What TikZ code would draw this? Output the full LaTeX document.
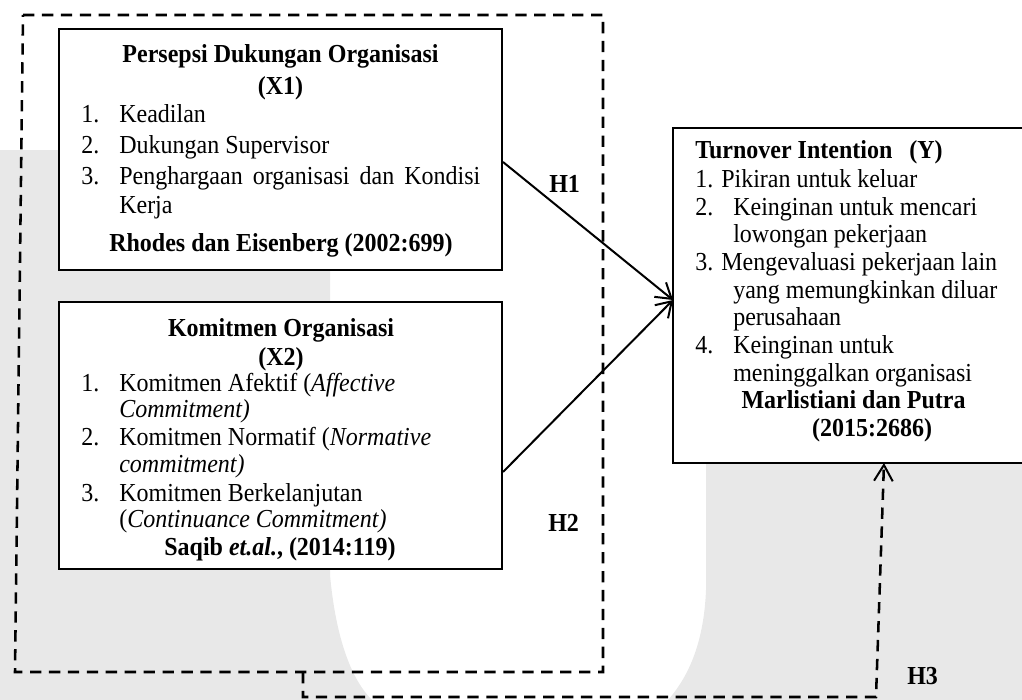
\documentclass[tikz,border=0pt]{standalone}
\usepackage{graphicx}
\usepackage{fontspec}
\setmainfont{Liberation Serif}
\usetikzlibrary{arrows.meta}
\definecolor{wm}{RGB}{232,232,232}
\newcommand\vs[1]{\scalebox{1}[1.08]{#1}}
\begin{document}
\begin{tikzpicture}[x=0.75pt,y=-0.75pt,
  box/.style={draw, line width=1.5pt, fill=white, inner sep=0pt},
  txt/.style={inner sep=0pt, anchor=base west, font=\fontsize{18}{21}\selectfont},
  btxt/.style={inner sep=0pt, anchor=base west, font=\fontsize{18}{21}\selectfont\bfseries},
  ctr/.style={inner sep=0pt, anchor=base, font=\fontsize{18}{21}\selectfont\bfseries},
  arr/.style={line width=1.5pt, -{Straight Barb[length=11pt,width=14pt,line width=1.5pt]}},
  dashline/.style={line width=1.9pt, dash pattern=on 8.5pt off 5.7pt}]
\useasboundingbox (0,0) rectangle (1022,700);
\clip (0,0) rectangle (1022,700);
% watermark
\fill[wm] (0,150) -- (330,150) -- (330,575) .. controls (336,640) and (352,680) .. (372,700) -- (0,700) -- cycle;
\fill[wm] (706,300) -- (1022,300) -- (1022,700) -- (668,700) .. controls (690,675) and (704,640) .. (706,590) -- cycle;
% outer dashed group
\draw[dashline] (23,15) -- (603,15) -- (603,672) -- (15,672) -- cycle;
\coordinate (gb) at (303,672);
% boxes
\node[box, minimum width=332.25pt, minimum height=180.75pt] (x1) at (280.5,149.5) {};
\node[box, minimum width=332.25pt, minimum height=200.25pt] (x2) at (280.5,435.5) {};
\node[box, minimum width=267.75pt, minimum height=251.25pt] (y) at (851.5,295.5) {};
% X1 text
\node[ctr] (t1a) at (280.5,62) {\vs{Persepsi Dukungan Organisasi}};
\node[ctr] (t1b) at (280.5,94) {\vs{(X1)}};
\node[txt] (n11) at (81,122) {\vs{1.}};
\node[txt] (i11) at (119,122) {\vs{Keadilan}};
\node[txt] (n12) at (81,153) {\vs{2.}};
\node[txt] (i12) at (119,153) {\vs{Dukungan Supervisor}};
\node[txt] (n13) at (81,184) {\vs{3.}};
\node[txt] (i13) at (119,184) {\vs{\makebox[270.75pt][s]{Penghargaan organisasi dan Kondisi}}};
\node[txt] (i13b) at (119,213) {\vs{Kerja}};
\node[ctr] (r1) at (281,251) {\vs{Rhodes dan Eisenberg (2002:699)}};
% X2 text
\node[ctr] (t2a) at (281,336) {\vs{Komitmen Organisasi}};
\node[ctr] (t2b) at (281,365) {\vs{(X2)}};
\node[txt] (n21) at (81,391) {\vs{1.}};
\node[txt] (i21) at (119,391) {\vs{Komitmen Afektif (\textit{Affective}}};
\node[txt] (i21b) at (119,417) {\vs{\textit{Commitment)}}};
\node[txt] (n22) at (81,445) {\vs{2.}};
\node[txt] (i22) at (119,445) {\vs{Komitmen Normatif (\textit{Normative}}};
\node[txt] (i22b) at (119,472) {\vs{\textit{commitment)}}};
\node[txt] (n23) at (81,501) {\vs{3.}};
\node[txt] (i23) at (119,501) {\vs{Komitmen Berkelanjutan}};
\node[txt] (i23b) at (119,527) {\vs{(\textit{Continuance Commitment)}}};
\node[ctr] (r2) at (280,555) {\vs{Saqib \textit{et.al.}, (2014:119)}};
% Y text
\node[btxt] (ty) at (695,158.5) {\vs{Turnover Intention\hspace{12.75pt}(Y)}};
\node[txt] (y1) at (695,187) {\vs{1. Pikiran untuk keluar}};
\node[txt] (ny2) at (695,215) {\vs{2.}};
\node[txt] (y2) at (733,215) {\vs{Keinginan untuk mencari}};
\node[txt] (y2b) at (733,242) {\vs{lowongan pekerjaan}};
\node[txt] (y3) at (695,270) {\vs{3. Mengevaluasi pekerjaan lain}};
\node[txt] (y3b) at (733,298) {\vs{yang memungkinkan diluar}};
\node[txt] (y3c) at (733,325) {\vs{perusahaan}};
\node[txt] (ny4) at (695,353) {\vs{4.}};
\node[txt] (y4) at (733,353) {\vs{Keinginan untuk}};
\node[txt] (y4b) at (733,381) {\vs{meninggalkan organisasi}};
\node[ctr] (ry1) at (853.5,408) {\vs{Marlistiani dan Putra}};
\node[ctr] (ry2) at (872,436) {\vs{(2015:2686)}};
% connectors
\coordinate (a1) at (503,162);
\coordinate (a2) at (503,472);
\coordinate (tip) at (673,300);
\coordinate (h3t) at (884,463);
\draw[arr] (a1) -- (tip);
\draw[arr] (a2) -- (tip);
\draw[dashline, -{Straight Barb[length=12pt,width=14pt,line width=1.5pt]}] (gb) -- (303,697) -- (876,697) -- (h3t);
% labels
\node[btxt] (h1) at (549,192) {\vs{H1}};
\node[btxt] (h2) at (548,531) {\vs{H2}};
\node[btxt] (h3) at (907,684) {\vs{H3}};
\end{tikzpicture}
\end{document}
